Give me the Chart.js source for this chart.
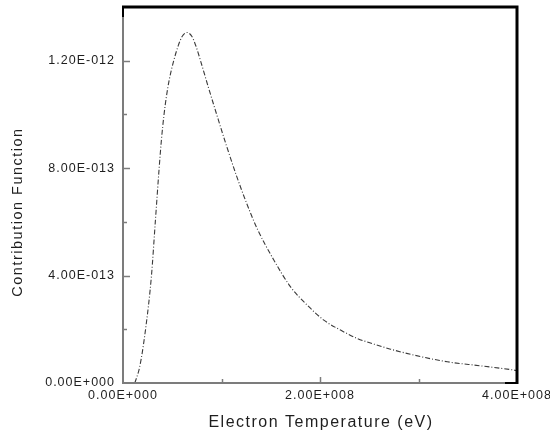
<!DOCTYPE html>
<html>
<head>
<meta charset="utf-8">
<script src="https://cdn.jsdelivr.net/npm/chart.js@4.4.1/dist/chart.umd.min.js"></script>
<style>
  html, body { margin: 0; padding: 0; background: #ffffff; }
  #wrap { width: 550px; height: 432px; position: relative; }
</style>
</head>
<body>
<div id="wrap"><canvas id="c" width="550" height="432"></canvas></div>
<script>
// ---- Data ----
const temperature = [0.12e8, 0.17e8, 0.228e8, 0.289e8, 0.328e8, 0.367e8, 0.39e8, 0.415e8, 0.44e8, 0.47e8, 0.515e8, 0.56e8, 0.60e8, 0.65e8, 0.70e8, 0.74e8, 0.787e8, 0.866e8, 0.956e8, 1.05e8, 1.15e8, 1.25e8, 1.362e8, 1.531e8, 1.701e8, 1.87e8, 2.039e8, 2.208e8, 2.378e8, 2.547e8, 2.716e8, 2.953e8, 3.292e8, 3.63e8, 3.97e8, 4.0e8];
const contribution = [0, 0.61e-13, 1.97e-13, 4.0e-13, 6.0e-13, 8.0e-13, 9.05e-13, 9.95e-13, 10.65e-13, 11.3e-13, 12.0e-13, 12.55e-13, 12.9e-13, 13.05e-13, 12.9e-13, 12.55e-13, 12.0e-13, 11.02e-13, 9.94e-13, 8.84e-13, 7.74e-13, 6.74e-13, 5.75e-13, 4.58e-13, 3.58e-13, 2.90e-13, 2.34e-13, 1.97e-13, 1.66e-13, 1.45e-13, 1.26e-13, 1.04e-13, 0.79e-13, 0.64e-13, 0.48e-13, 0.46e-13];

const xTickLabels = ['0.00E+000', '', '2.00E+008', '', '4.00E+008'];
const yTickLabels = ['0.00E+000', '', '4.00E-013', '', '8.00E-013', '', '1.20E-012', ''];
const xTitle = 'Electron Temperature (eV)';
const yTitle = 'Contribution Function';

const AXIS_GRAY = '#7c7c7c';
const TEXT = '#1e1e1e';

const framePlugin = {
  id: 'frame',
  beforeDraw(chart) {
    chart.ctx.letterSpacing = '1px';
  },
  afterDraw(chart) {
    const ctx = chart.ctx;
    const a = chart.chartArea;
    const xs = chart.scales.x, ys = chart.scales.y;
    ctx.save();
    ctx.letterSpacing = '0px';
    // inward ticks
    ctx.strokeStyle = AXIS_GRAY;
    ctx.lineWidth = 1.5;
    ys.ticks.forEach((t, i) => {
      const y = Math.round(ys.getPixelForValue(t.value)) + 0.5;
      if (t.value <= 0 || y < a.top + 3) return;
      const len = yTickLabels[i] ? 7 : 4;
      ctx.beginPath(); ctx.moveTo(a.left, y); ctx.lineTo(a.left + len, y); ctx.stroke();
    });
    xs.ticks.forEach((t, i) => {
      const x = Math.round(xs.getPixelForValue(t.value)) + 0.5;
      if (t.value <= 0 || x > a.right - 3) return;
      const len = xTickLabels[i] ? 6 : 4;
      ctx.beginPath(); ctx.moveTo(x, a.bottom); ctx.lineTo(x, a.bottom - len); ctx.stroke();
    });
    // left & bottom axes (gray)
    ctx.lineWidth = 2;
    ctx.beginPath();
    ctx.moveTo(a.left, a.top); ctx.lineTo(a.left, a.bottom); ctx.lineTo(a.right, a.bottom);
    ctx.stroke();
    // top & right frame (black, thick)
    ctx.strokeStyle = '#000000';
    ctx.lineWidth = 3;
    ctx.beginPath();
    ctx.moveTo(a.left - 1, a.top); ctx.lineTo(a.right, a.top); ctx.lineTo(a.right, a.bottom + 1);
    ctx.stroke();
    ctx.lineWidth = 2;
    ctx.beginPath(); ctx.moveTo(a.left, a.top); ctx.lineTo(a.left, a.top + 10); ctx.stroke();
    ctx.beginPath(); ctx.moveTo(a.right - 12, a.bottom); ctx.lineTo(a.right, a.bottom); ctx.stroke();
    // axis titles
    ctx.fillStyle = TEXT;
    ctx.letterSpacing = '1.5px';
    ctx.textAlign = 'center';
    ctx.textBaseline = 'middle';
    ctx.font = '16px "Liberation Sans", Arial, sans-serif';
    ctx.fillText(xTitle, (a.left + a.right) / 2 + 1, 423);
    ctx.save();
    ctx.translate(18, 212);
    ctx.rotate(-Math.PI / 2);
    ctx.font = '14.5px "Liberation Sans", Arial, sans-serif';
    ctx.fillText(yTitle, 0, 0);
    ctx.restore();
    ctx.restore();
  }
};

new Chart(document.getElementById('c'), {
  type: 'line',
  data: {
    datasets: [{
      data: temperature.map((x, i) => ({ x: x, y: contribution[i] })),
      borderColor: '#3a3a3a',
      borderWidth: 1.1,
      borderDash: [5, 2, 1, 2],
      pointRadius: 0,
      fill: false,
      cubicInterpolationMode: 'monotone'
    }]
  },
  options: {
    responsive: false,
    animation: false,
    devicePixelRatio: 1,
    layout: { padding: { left: 0, top: 7, right: 33, bottom: 0 } },
    plugins: { legend: { display: false }, tooltip: { enabled: false } },
    scales: {
      x: {
        type: 'linear',
        min: 0, max: 4e8,
        ticks: {
          stepSize: 1e8,
          autoSkip: false,
          maxRotation: 0,
          padding: 5,
          color: TEXT,
          font: { family: '"Liberation Sans", Arial, sans-serif', size: 12.5 },
          callback: (v, i) => xTickLabels[i]
        },
        grid: { display: true, drawOnChartArea: false, drawTicks: false, color: 'rgba(0,0,0,0)' },
        border: { display: false },
        afterFit: (s) => { s.height = 49; s.paddingLeft = 0; s.paddingRight = 0; }
      },
      y: {
        type: 'linear',
        min: 0, max: 1.4e-12,
        ticks: {
          stepSize: 2e-13,
          autoSkip: false,
          padding: 8,
          color: TEXT,
          font: { family: '"Liberation Sans", Arial, sans-serif', size: 12.5 },
          callback: (v, i) => yTickLabels[i]
        },
        grid: { display: true, drawOnChartArea: false, drawTicks: false, color: 'rgba(0,0,0,0)' },
        border: { display: false },
        afterFit: (s) => { s.width = 123; s.paddingTop = 0; s.paddingBottom = 0; }
      }
    }
  },
  plugins: [framePlugin]
});
</script>
</body>
</html>
